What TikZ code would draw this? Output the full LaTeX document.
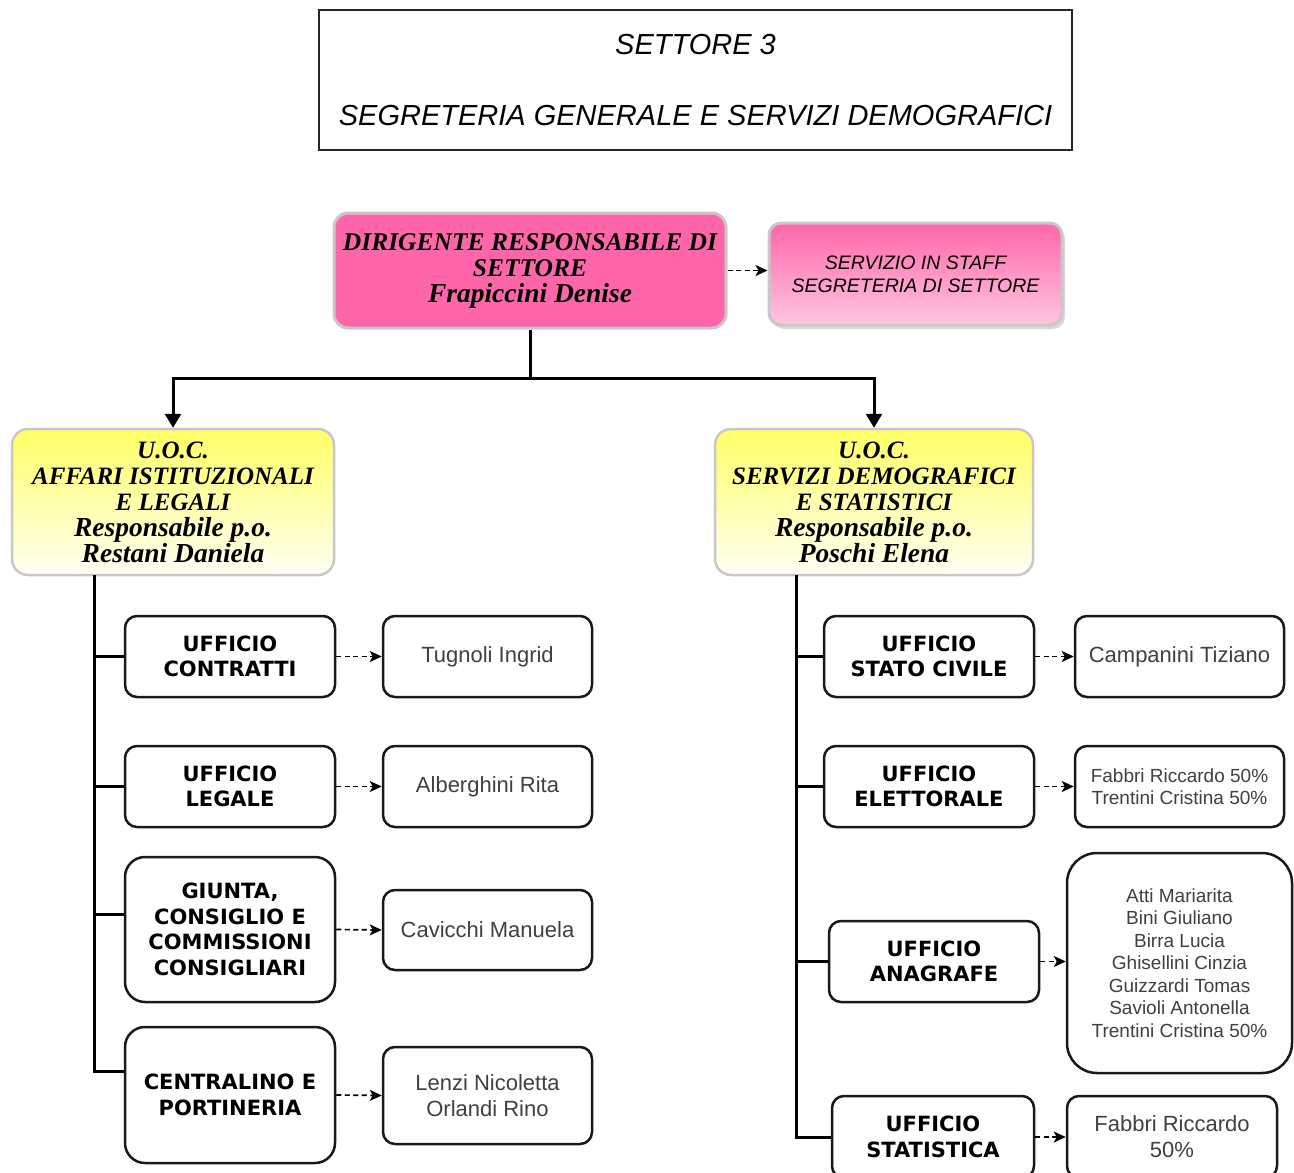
\documentclass[tikz,border=0pt]{standalone}
\usepackage{fontspec}
\setmainfont{Liberation Serif}
\newfontfamily\arialf{Liberation Sans}
\newfontfamily\verdf{DejaVu Sans}
\usetikzlibrary{arrows.meta,shadows,calc}
\definecolor{hotpink}{RGB}{255,102,170}
\definecolor{pinklight}{RGB}{255,198,224}
\definecolor{yel}{RGB}{255,255,100}
\definecolor{yellight}{RGB}{255,255,244}
\definecolor{graybord}{RGB}{200,200,200}
\definecolor{ptext}{RGB}{64,64,64}
\newcommand{\lowline}[1]{{\fontsize{27.5}{26}\selectfont #1}}
\begin{document}
\begin{tikzpicture}[x=1pt,y=-1pt,
 titlebox/.style={draw=black!85, line width=2.2pt, minimum width=753pt, minimum height=140pt, inner sep=0pt, align=center, font=\arialf\itshape\fontsize{29}{35}\selectfont},
 dirbox/.style={draw=graybord, line width=3pt, rounded corners=14pt, fill=hotpink, minimum width=392pt, minimum height=115pt, inner sep=0pt, align=center, font=\bfseries\itshape\fontsize{25.5}{26}\selectfont},
 staffbox/.style={draw=graybord, line width=3pt, rounded corners=12pt, top color=hotpink, bottom color=pinklight, drop shadow={shadow xshift=3pt, shadow yshift=-4pt, fill=black!30}, minimum width=293pt, minimum height=102pt, inner sep=0pt, align=center, font=\arialf\itshape\fontsize{19.5}{23}\selectfont},
 uocbox/.style={draw=graybord, line width=2.5pt, rounded corners=16pt, top color=yel, bottom color=yellight, minimum height=146pt, inner sep=0pt, align=center, font=\bfseries\itshape\fontsize{25}{26}\selectfont},
 office/.style={draw=black!90, line width=2.5pt, rounded corners=12pt, fill=white, align=center, inner sep=0pt, minimum width=210pt, minimum height=81pt, font=\verdf\bfseries\fontsize{21}{25.5}\selectfont},
 person/.style={draw=black!90, line width=2.5pt, rounded corners=12pt, fill=white, align=center, inner sep=0pt, minimum width=209pt, minimum height=81pt, text=ptext, font=\arialf\fontsize{22}{26}\selectfont},
 smallperson/.style={person, font=\arialf\fontsize{19}{22.5}\selectfont},
 conn/.style={line width=3pt, black},
 mainarrow/.style={conn, -{Triangle[length=14pt,width=16pt]}},
 dasharrow/.style={line width=1.7pt, dash pattern=on 5pt off 3.5pt, -{Stealth[length=12pt,width=11pt,inset=3pt]}},
]
\useasboundingbox (0,0) rectangle (1294,1173);
\clip (0,0) rectangle (1294,1173);

% title
\node[titlebox] (title) at (695.5,80) {SETTORE 3\\[36pt]SEGRETERIA GENERALE E SERVIZI DEMOGRAFICI};

% top level
\node[dirbox] (dir) at (530,270.5) {DIRIGENTE RESPONSABILE DI\\SETTORE\\\lowline{Frapiccini Denise}};
\node[staffbox] (staff) at (915.5,274) {SERVIZIO IN STAFF\\SEGRETERIA DI SETTORE};

% U.O.C.
\node[uocbox, minimum width=322pt] (uocL) at (173,502) {U.O.C.\\AFFARI ISTITUZIONALI\\E LEGALI\\\lowline{Responsabile p.o.}\\\lowline{Restani Daniela}};
\node[uocbox, minimum width=318pt] (uocR) at (874,502) {U.O.C.\\SERVIZI DEMOGRAFICI\\E STATISTICI\\\lowline{Responsabile p.o.}\\\lowline{Poschi Elena}};

% left offices
\node[office] (contr) at (230,656.5) {UFFICIO\\CONTRATTI};
\node[office] (legale) at (230,786.5) {UFFICIO\\LEGALE};
\node[office, minimum height=145pt, rounded corners=20pt] (giunta) at (230,929.5) {GIUNTA,\\CONSIGLIO E\\COMMISSIONI\\CONSIGLIARI};
\node[office, minimum height=136pt, rounded corners=20pt] (centr) at (230,1095) {CENTRALINO E\\PORTINERIA};

% left people
\node[person] (tug) at (487.5,656.5) {Tugnoli Ingrid};
\node[person] (alb) at (487.5,786.5) {Alberghini Rita};
\node[person, minimum height=80pt] (cav) at (487.5,930) {Cavicchi Manuela};
\node[person, minimum height=97pt] (lenzi) at (487.5,1095.5) {Lenzi Nicoletta\\Orlandi Rino};

% right offices
\node[office] (stciv) at (929,656.5) {UFFICIO\\STATO CIVILE};
\node[office] (elett) at (929,786.5) {UFFICIO\\ELETTORALE};
\node[office] (anag) at (934,961.5) {UFFICIO\\ANAGRAFE};
\node[office, minimum width=202pt, minimum height=82pt] (stat) at (933,1137) {UFFICIO\\STATISTICA};

% right people
\node[person] (camp) at (1179.5,656.5) {Campanini Tiziano};
\node[smallperson] (fab) at (1179.5,786.5) {Fabbri Riccardo 50\%\\Trentini Cristina 50\%};
\node[smallperson, minimum width=225pt, minimum height=220pt, rounded corners=30pt] (anp) at (1179.5,963) {Atti Mariarita\\Bini Giuliano\\Birra Lucia\\Ghisellini Cinzia\\Guizzardi Tomas\\Savioli Antonella\\Trentini Cristina 50\%};
\node[person, minimum width=210pt, minimum height=82pt] (statp) at (1172,1137) {Fabbri Riccardo\\50\%};

% main connectors
\coordinate (hub) at (530,378);
\draw[conn] (dir.south) -- (hub);
\draw[mainarrow] (hub) -| (uocL.north);
\draw[mainarrow] (hub) -| (uocR.north);

% dashed staff link
\draw[dasharrow] (dir.east) -- (dir.east -| staff.west);

% left spine
\coordinate (spL) at (94,575);
\draw[conn] (spL) |- (contr.west);
\draw[conn] (spL) |- (legale.west);
\draw[conn] (spL) |- ($(giunta.west)+(0,-15.5)$);
\draw[conn] (spL) |- ($(centr.west)+(0,-24)$);

% right spine
\coordinate (spR) at (796,575);
\draw[conn] (spR) |- (stciv.west);
\draw[conn] (spR) |- (elett.west);
\draw[conn] (spR) |- (anag.west);
\draw[conn] (spR) |- (stat.west);

% dashed links to people
\draw[dasharrow] (contr.east) -- (tug.west);
\draw[dasharrow] (legale.east) -- (alb.west);
\draw[dasharrow] (giunta.east) -- (cav.west);
\draw[dasharrow] (centr.east) -- (lenzi.west);
\draw[dasharrow] (stciv.east) -- (camp.west);
\draw[dasharrow] (elett.east) -- (fab.west);
\draw[dasharrow] (anag.east) -- (anag.east -| anp.west);
\draw[dasharrow] (stat.east) -- (statp.west);
\end{tikzpicture}
\end{document}
